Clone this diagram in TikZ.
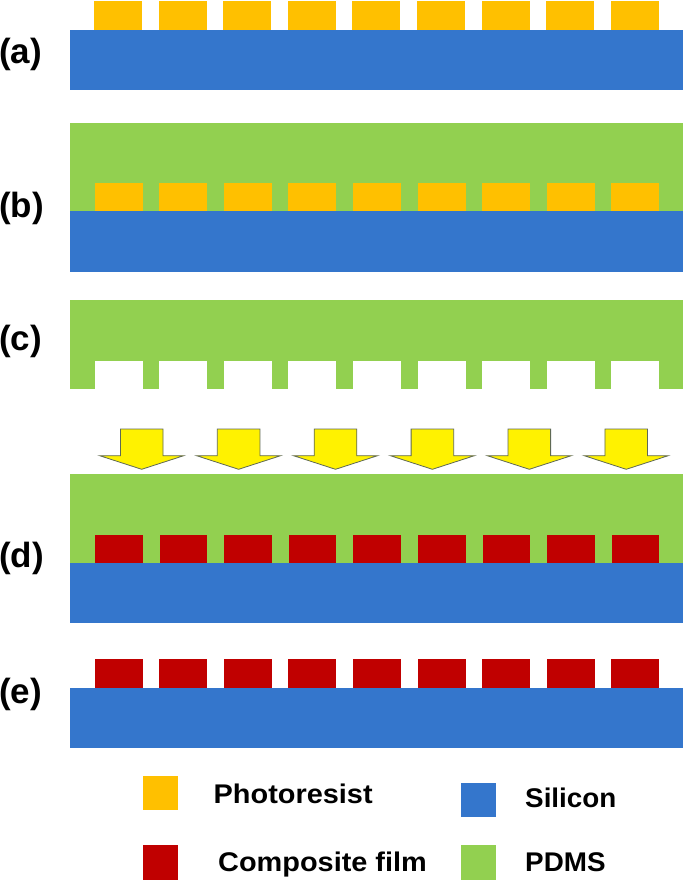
\documentclass[tikz,border=0pt]{standalone}
\usepackage{fontspec}
\setmainfont{Liberation Sans}
\newfontfamily\legfontA[FakeStretch=1.07]{Liberation Sans}
\newfontfamily\legfontB[FakeStretch=1.03]{Liberation Sans}
\definecolor{photo}{RGB}{255,192,0}
\definecolor{sil}{RGB}{52,118,204}
\definecolor{pdms}{RGB}{146,208,80}
\definecolor{comp}{RGB}{192,0,0}
\definecolor{arrline}{RGB}{95,105,85}
\begin{document}
\begin{tikzpicture}[x=1pt,y=-1pt,
  siliconfill/.style={fill=sil},
  photofill/.style={fill=photo},
  pdmsfill/.style={fill=pdms},
  compfill/.style={fill=comp},
  pressarrow/.style={fill=yellow, draw=arrline, line width=0.8pt, line join=miter},
  lab/.style={anchor=base west, inner sep=0pt, font=\fontsize{35}{40}\selectfont\bfseries},
  legtextA/.style={anchor=base west, inner sep=0pt, font=\fontsize{27}{32}\legfontA\bfseries},
  legtextB/.style={anchor=base west, inner sep=0pt, font=\fontsize{27}{32}\legfontB\bfseries},
  legbox/.style={minimum width=35pt, minimum height=34.5pt, inner sep=0pt, anchor=north west}]
\useasboundingbox (0,0) rectangle (685,882);

% (a)
\fill[siliconfill] (70,30) rectangle (683,90);
\foreach \i in {0,...,8} \fill[photofill] ({94+64.6*\i},1) rectangle +(48,29);
\node[lab] (la) at (-1,63.8) {(a)};

% (b)
\fill[pdmsfill] (70,122.7) rectangle (683,211);
\foreach \i in {0,...,8} \fill[photofill] ({94.5+64.6*\i},183.3) rectangle +(48,27.7);
\fill[siliconfill] (70,211) rectangle (683,271.7);
\node[lab] (lb) at (-1,217.2) {(b)};

% (c)
\fill[pdmsfill] (70,300) rectangle (683,360.9);
\fill[pdmsfill] (70,360.7) rectangle (94.5,389);
\foreach \i in {0,...,7} \fill[pdmsfill] ({142.5+64.6*\i},360.7) rectangle +(16.6,28.3);
\fill[pdmsfill] (659,360.7) rectangle (683,389);
\node[lab] (lc) at (-1,350.5) {(c)};

% arrows
\foreach \i in {0,...,5} {
  \pgfmathsetmacro\c{141.7+96.9*\i}
  \draw[pressarrow] ({\c-21.3},429) -- ({\c+21.3},429) -- ({\c+21.3},455.7) -- ({\c+42},455.7)
     -- (\c,469.3) -- ({\c-42},455.7) -- ({\c-21.3},455.7) -- cycle;
}

% (d)
\fill[pdmsfill] (70,474.3) rectangle (683,563.3);
\foreach \i in {0,...,8} \fill[compfill] ({95+64.6*\i},535.3) rectangle +(47.5,28);
\fill[siliconfill] (70,563.3) rectangle (683,623);
\node[lab] (ld) at (-1,567.2) {(d)};

% (e)
\fill[siliconfill] (70,687.7) rectangle (683,748.3);
\foreach \i in {0,...,8} \fill[compfill] ({94.5+64.6*\i},659.3) rectangle +(48,28.4);
\node[lab] (le) at (-1,703.5) {(e)};

% legend
\node[legbox, photofill] (kp) at (142.7,775.7) {};
\node[legtextA] (tp) at (213.5,803) {Photoresist};
\node[legbox, compfill] (kc) at (142.7,845) {};
\node[legtextA] (tc) at (218,871.7) {Composite film};
\node[legbox, siliconfill] (ks) at (461,782.3) {};
\node[legtextB] (ts) at (525,807.5) {Silicon};
\node[legbox, pdmsfill] (kd) at (461,845) {};
\node[legtextB] (td) at (525,871) {PDMS};
\end{tikzpicture}
\end{document}
